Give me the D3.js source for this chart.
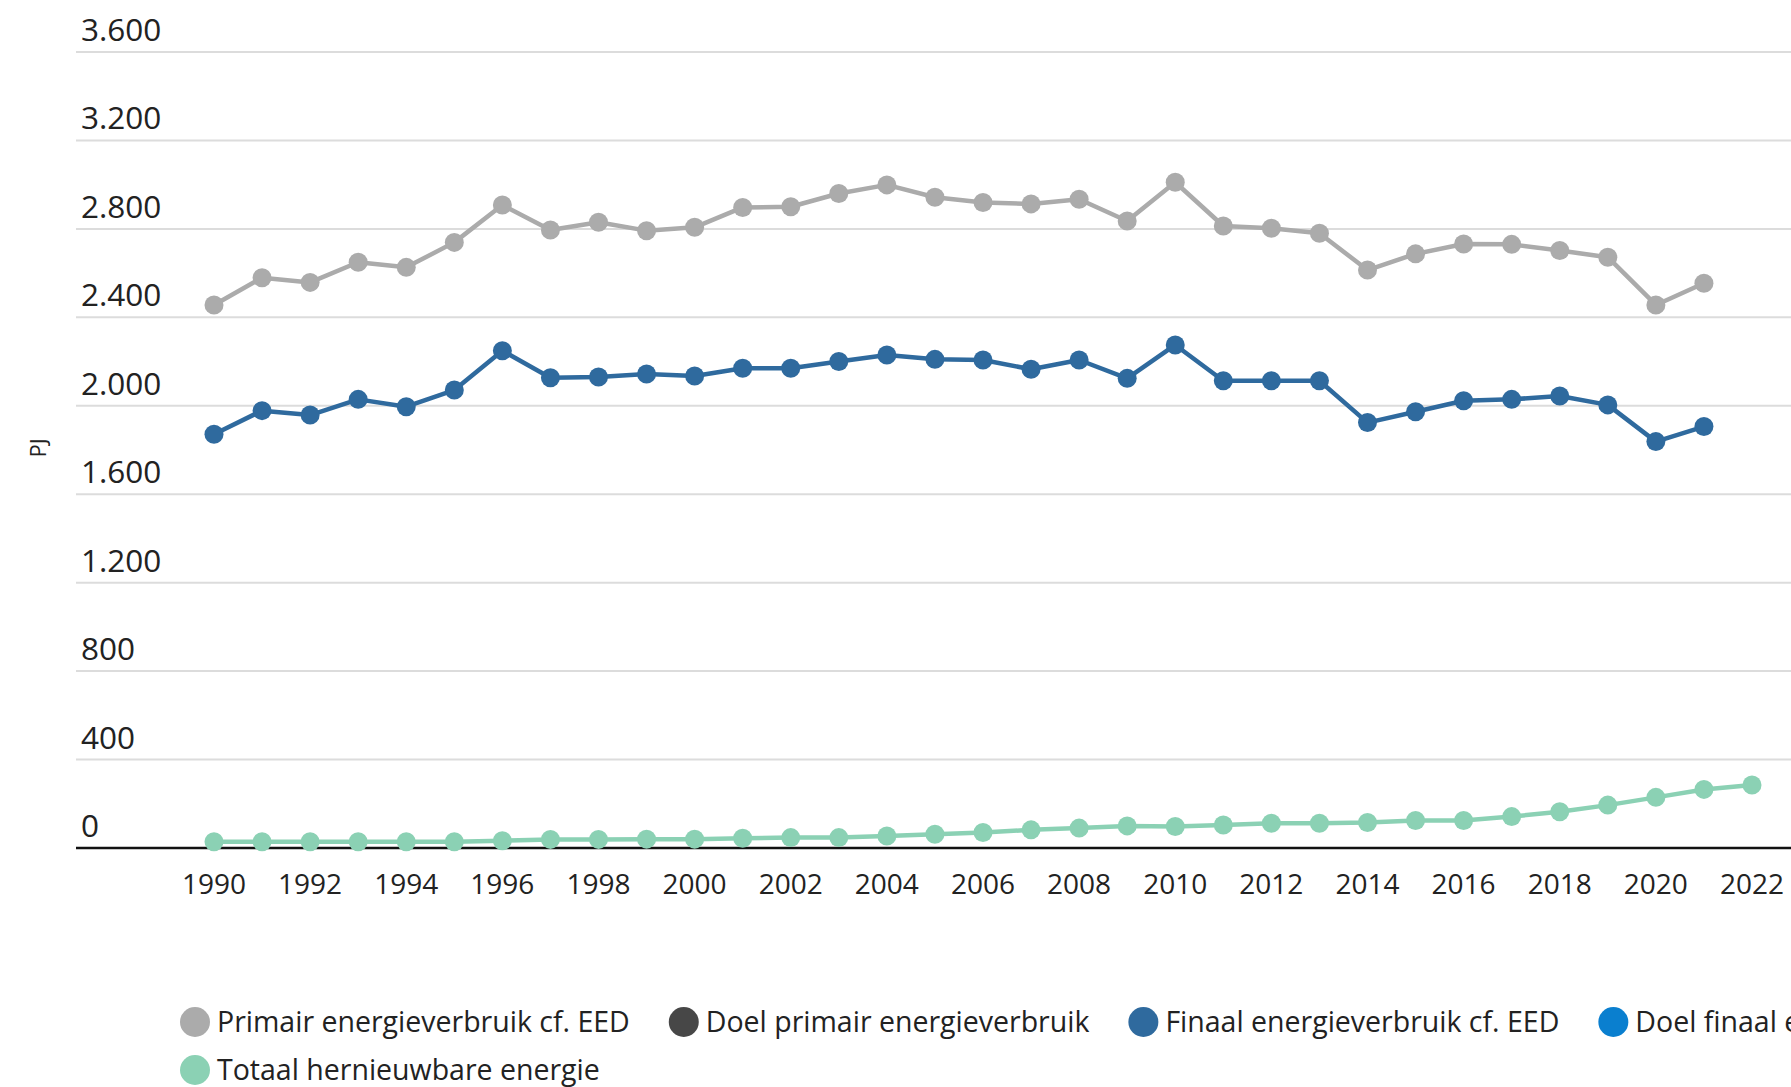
<!DOCTYPE html>
<html>
<head>
<meta charset="utf-8">
<script src="https://cdn.jsdelivr.net/npm/d3@7"></script>
<style>
  html, body { margin: 0; padding: 0; background: #fff; }
  svg { display: block; font-family: "Open Sans", sans-serif; }
</style>
</head>
<body>
<svg id="chart" width="1791" height="1087"></svg>
<script>
// jaren en reeksen (PJ)
const years = d3.range(1990, 2023);
const primair = [2456, 2579, 2558, 2649, 2626, 2739, 2908, 2795, 2830, 2792, 2807, 2897, 2900, 2960, 2999, 2943, 2919, 2913, 2934, 2836, 3011, 2813, 2803, 2780, 2614, 2687, 2732, 2730, 2702, 2672, 2456, 2554, null];
const finaal = [1871, 1978, 1958, 2029, 1996, 2071, 2249, 2127, 2130, 2144, 2135, 2170, 2170, 2200, 2230, 2210, 2207, 2165, 2207, 2124, 2275, 2113, 2113, 2113, 1924, 1973, 2023, 2029, 2044, 2004, 1838, 1906, null];
const hernieuwbaar = [28, 28, 28, 28, 28, 28, 33, 39, 39, 40, 40, 44, 47, 47, 54, 62, 70, 82, 90, 100, 97, 104, 112, 112, 115, 124, 124, 142, 164, 194, 229, 265, 285];
const yTicks = [0, 400, 800, 1200, 1600, 2000, 2400, 2800, 3200, 3600];
const xTicks = d3.range(1990, 2023, 2);

const legendItems = [
  { name: "Primair energieverbruik cf. EED", color: "#ababab", row: 0 },
  { name: "Doel primair energieverbruik", color: "#474747", row: 0 },
  { name: "Finaal energieverbruik cf. EED", color: "#2f6a9e", row: 0 },
  { name: "Doel finaal energieverbruik", color: "#0a7fcf", row: 0 },
  { name: "Totaal hernieuwbare energie", color: "#8bd1b4", row: 1 }
];

const series = [
  { values: primair, color: "#ababab" },
  { values: finaal, color: "#2f6a9e" },
  { values: hernieuwbaar, color: "#8bd1b4" }
];

const svg = d3.select("#chart");
const left = 76, right = 1791;

const x = d3.scalePoint().domain(years).range([214, 1752]);
const y = d3.scaleLinear().domain([0, 3600]).range([848, 52]);

// rasterlijnen
const grid = svg.append("g");
grid.selectAll("line")
  .data(yTicks.filter(d => d > 0))
  .enter().append("line")
  .attr("x1", left).attr("x2", right)
  .attr("y1", d => y(d)).attr("y2", d => y(d))
  .attr("stroke", "#dcdcdc")
  .attr("stroke-width", 2);

grid.selectAll("text")
  .data(yTicks)
  .enter().append("text")
  .attr("x", 81)
  .attr("y", d => y(d) - 11)
  .style("font-size", "31.5px")
  .style("fill", "#222")
  .text(d => d3.format(",")(d).replace(/,/g, "."));

// x-as
const xAxis = svg.append("g").attr("transform", `translate(0,${y(0)})`);
xAxis.append("line")
  .attr("x1", left).attr("x2", right)
  .attr("stroke", "#111")
  .attr("stroke-width", 2.5);
xAxis.selectAll("text")
  .data(xTicks)
  .enter().append("text")
  .attr("x", d => x(d))
  .attr("y", 46)
  .attr("text-anchor", "middle")
  .style("font-size", "28px")
  .style("fill", "#222")
  .text(d => d);

// y-as titel
svg.append("text")
  .attr("transform", "translate(46,448) rotate(-90)")
  .attr("text-anchor", "middle")
  .style("font-size", "22px")
  .style("fill", "#222")
  .text("PJ");

// lijnen en punten
const line = d3.line()
  .defined(d => d[1] != null)
  .x(d => x(d[0]))
  .y(d => y(d[1]));

series.forEach(s => {
  const pts = years.map((yr, i) => [yr, s.values[i]]);
  svg.append("path")
    .datum(pts)
    .attr("fill", "none")
    .attr("stroke", s.color)
    .attr("stroke-width", 4.5)
    .attr("stroke-linejoin", "round")
    .attr("d", line);
  svg.append("g").selectAll("circle")
    .data(pts.filter(d => d[1] != null))
    .enter().append("circle")
    .attr("cx", d => x(d[0]))
    .attr("cy", d => y(d[1]))
    .attr("r", 9.5)
    .attr("fill", s.color);
});

// legenda (loopt net als in het origineel over de rechterrand)
const legend = svg.append("g");
const rowY = [1022, 1070];
const rowX = [180, 180];
legendItems.forEach(item => {
  const g = legend.append("g")
    .attr("transform", `translate(${rowX[item.row]},${rowY[item.row]})`);
  g.append("circle").attr("cx", 15).attr("r", 15).attr("fill", item.color);
  const t = g.append("text")
    .attr("x", 37)
    .attr("dy", "0.35em")
    .style("font-size", "28.5px")
    .style("fill", "#222")
    .text(item.name);
  rowX[item.row] += 37 + t.node().getComputedTextLength() + 39;
});
</script>
</body>
</html>
